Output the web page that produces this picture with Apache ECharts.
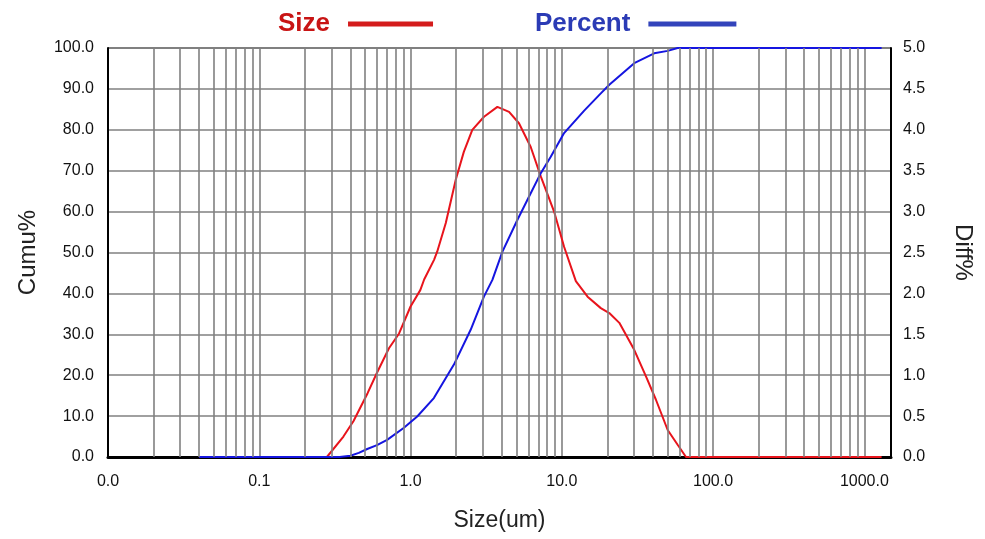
<!DOCTYPE html>
<html>
<head>
<meta charset="utf-8">
<script src="https://cdn.jsdelivr.net/npm/echarts@6/dist/echarts.min.js"></script>
<style>html,body{margin:0;padding:0;background:#fff;}#main{width:985px;height:539px;}</style>
</head>
<body>
<div id="main"></div>
<script>
// Diff% curve ("Size", right axis)
const sizeX = [0.04, 0.28, 0.36, 0.42, 0.52, 0.60, 0.72, 0.84, 1.0, 1.16, 1.23, 1.43, 1.50, 1.71, 1.99, 2.25, 2.56, 3.06, 3.75, 4.48, 5.21, 6.23, 7.26, 8.89, 10.35, 12.38, 14.8, 18.1, 20.6, 24.0, 30.1, 36.0, 41.9, 50.1, 58.3, 66.2, 1300];
const sizeDiff = [0, 0, 0.25, 0.44, 0.78, 1.03, 1.33, 1.51, 1.84, 2.04, 2.17, 2.41, 2.51, 2.86, 3.39, 3.73, 4.0, 4.16, 4.28, 4.22, 4.08, 3.79, 3.43, 3.0, 2.57, 2.15, 1.96, 1.82, 1.76, 1.64, 1.31, 0.985, 0.70, 0.33, 0.15, 0, 0];
// Cumulative curve ("Percent", left axis)
const percentX = [0.04, 0.34, 0.40, 0.455, 0.517, 0.60, 0.70, 0.90, 1.107, 1.426, 1.935, 2.497, 3.055, 3.476, 4.05, 5.09, 6.23, 7.26, 8.45, 10.35, 14.06, 18.1, 20.6, 30.1, 40.8, 50.1, 58.3, 65, 1300];
const percentCumu = [0, 0, 0.3, 1.0, 1.95, 2.9, 4.2, 7.1, 9.9, 14.4, 22.6, 31.1, 39.2, 43.3, 50.2, 58.0, 64.5, 69.4, 73.4, 79.2, 84.7, 88.9, 91.0, 96.3, 98.7, 99.3, 100, 100, 100];
// axes
const xMin = 0.01, xMax = 1500;
const leftTicks = {min: 0, max: 100, interval: 10};
const rightTicks = {min: 0, max: 5, interval: 0.5};
const legendNames = ['Size', 'Percent'];
// minor log grid values (2..9 in each decade)
const minorGrid = [];
[0.01, 0.1, 1, 10, 100].forEach(d => { for (let m = 2; m <= 9; m++) minorGrid.push(+(m * d).toPrecision(3)); });

const FONT = "'Liberation Sans', Arial, sans-serif";
const chart = echarts.init(document.getElementById('main'), null, {renderer: 'canvas'});
const lbl = {fontFamily: FONT, fontSize: 16, color: '#111'};
const GRID = {color: '#808080', width: 1.6};
chart.setOption({
  animation: false,
  backgroundColor: '#fff',
  grid: {left: 108, right: 94, top: 48, bottom: 82, show: true, borderColor: '#000', borderWidth: 1},
  legend: [
    {data: [{name: legendNames[0], itemStyle: {color: '#d41c1c'}}], left: 273, top: 6, align: 'right', icon: 'rect', itemWidth: 85, itemHeight: 5,
     textStyle: {fontFamily: FONT, fontWeight: 'bold', fontSize: 26, color: '#c81414', padding: [0, 13, 0, 0]}},
    {data: [{name: legendNames[1], itemStyle: {color: '#3344bb'}}], left: 530, top: 6, align: 'right', icon: 'rect', itemWidth: 88, itemHeight: 5,
     textStyle: {fontFamily: FONT, fontWeight: 'bold', fontSize: 26, color: '#2b3bb5', padding: [0, 13, 0, 0]}}
  ],
  xAxis: {
    type: 'log', logBase: 10, min: xMin, max: xMax,
    name: 'Size(um)', nameLocation: 'middle', nameGap: 52,
    nameTextStyle: {fontFamily: FONT, fontSize: 23, color: '#222'},
    axisLine: {lineStyle: {color: '#000', width: 3}},
    axisTick: {show: false},
    axisLabel: Object.assign({margin: 17, showMaxLabel: false, formatter: v => Number(v).toFixed(1)}, lbl),
    splitLine: {show: true, lineStyle: GRID},
    minorTick: {show: false}, minorSplitLine: {show: false}
  },
  yAxis: [
    {type: 'value', position: 'left', min: leftTicks.min, max: leftTicks.max, interval: leftTicks.interval,
     name: 'Cumu%', nameLocation: 'middle', nameGap: 68, nameRotate: 90,
     nameTextStyle: {fontFamily: FONT, fontSize: 24, color: '#222'},
     axisLine: {show: true, lineStyle: {color: '#000', width: 2}},
     axisTick: {show: false},
     axisLabel: Object.assign({margin: 14, formatter: v => Number(v).toFixed(1)}, lbl),
     splitLine: {show: true, lineStyle: GRID}},
    {type: 'value', position: 'right', min: rightTicks.min, max: rightTicks.max, interval: rightTicks.interval,
     name: 'Diff%', nameLocation: 'middle', nameGap: 60, nameRotate: -90,
     nameTextStyle: {fontFamily: FONT, fontSize: 24, color: '#222'},
     axisLine: {show: true, lineStyle: {color: '#000', width: 2}},
     axisTick: {show: false},
     axisLabel: Object.assign({margin: 12, formatter: v => Number(v).toFixed(1)}, lbl),
     splitLine: {show: false}}
  ],
  series: [
    {name: 'gridlines', type: 'line', data: [[xMin, 0]], showSymbol: false, lineStyle: {opacity: 0}, z: 1, silent: true,
     markLine: {silent: true, symbol: ['none', 'none'], label: {show: false}, animation: false,
       lineStyle: Object.assign({type: 'solid'}, GRID),
       emphasis: {disabled: true},
       data: minorGrid.map(v => ({xAxis: v}))}},
    {name: legendNames[0], type: 'line', yAxisIndex: 1, z: 3, showSymbol: false, symbol: 'none',
     lineStyle: {color: '#e8141c', width: 2}, itemStyle: {color: '#e8141c'},
     data: sizeX.map((x, i) => [x, sizeDiff[i]])},
    {name: legendNames[1], type: 'line', yAxisIndex: 0, z: 4, showSymbol: false, symbol: 'none',
     lineStyle: {color: '#1515e0', width: 2}, itemStyle: {color: '#1515e0'},
     data: percentX.map((x, i) => [x, percentCumu[i]])}
  ]
});
</script>
</body>
</html>
